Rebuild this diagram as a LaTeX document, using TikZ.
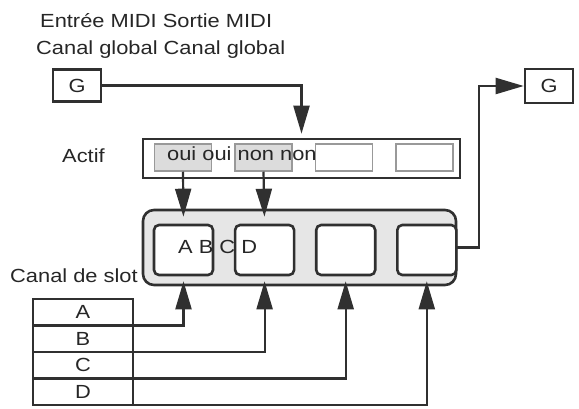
\documentclass[tikz,border=0pt]{standalone}
\usepackage{fontspec}
\setmainfont{Liberation Sans}[FakeStretch=1.15]
\usepackage{xcolor}
\usetikzlibrary{arrows.meta,positioning,calc}
\definecolor{linegray}{HTML}{303030}
\definecolor{flaggray}{HTML}{DCDCDC}
\definecolor{panelgray}{HTML}{E6E6E6}

\begin{document}
\begin{tikzpicture}[
    x=1pt, y=-1pt,
    font=\fontsize{19}{22}\selectfont,
    every node/.style={text=black!85, inner sep=0pt},
    txt/.style={anchor=base west},
    gbox/.style={rectangle, draw=linegray, line width=2.6pt, minimum width=48pt, minimum height=32pt},
    activebox/.style={rectangle, draw=linegray, line width=2.6pt, minimum width=317pt, minimum height=39pt},
    flag/.style={rectangle, draw=gray!80, line width=1.5pt, minimum width=57pt, minimum height=27pt},
    panel/.style={rectangle, draw=linegray, line width=2.6pt, fill=panelgray, rounded corners=11pt, minimum width=313pt, minimum height=75pt},
    slot/.style={rectangle, draw=linegray, line width=2.6pt, fill=white, rounded corners=5pt, minimum width=59pt, minimum height=50pt},
    chanrow/.style={rectangle, draw=linegray, line width=2.4pt, outer sep=0pt, minimum width=100pt, minimum height=26.5pt},
    arrow/.style={-{Triangle[length=28pt,width=16pt]}, color=linegray, line width=2.2pt}
]
\useasboundingbox (0,0) rectangle (579,409);

% Headings
\node[txt] (inhead) at (40,28) {Entrée MIDI Sortie MIDI};
\node[txt] (chanhead) at (36,55) {Canal global Canal global};

% Global channel boxes
\node[gbox] (gin) at (77,85.5) {G};
\node[gbox, minimum height=34pt] (gout) at (549,86) {G};

% Active row
\node[activebox] (active) at (301.5,158.5) {};
\node[flag, fill=flaggray] (act1) at (183,157.5) {};
\node[flag, fill=flaggray, right=22pt of act1] (act2) {};
\node[flag, fill=white, right=22pt of act2] (act3) {};
\node[flag, fill=white, right=22pt of act3] (act4) {};
\node[txt] (actlabel) at (62,163) {Actif};
\node[txt] (yesno) at (167,161) {oui oui non non};

% Slot panel
\node[panel] (panel) at (299.5,247.5) {};
\node[slot] (slot1) at (183.5,250) {};
\node[slot, right=19.5pt of slot1] (slot2) {};
\node[slot, right=19.5pt of slot2] (slot3) {};
\node[slot, right=19.5pt of slot3] (slot4) {};
\node[txt] (slotnames) at (178,254) {A B C D};
\node[txt] (slotlabel) at (10,282) {Canal de slot};

% Slot channel table
\node[chanrow] (rowA) at (83,312.25) {A};
\node[chanrow, below=0pt of rowA] (rowB) {B};
\node[chanrow, below=0pt of rowB] (rowC) {C};
\node[chanrow, below=0pt of rowC] (rowD) {D};

% Connections
\draw[arrow, shorten >=4pt] (gin.east) -| (active.north);
\draw[arrow, shorten >=7pt] (act1.south) -- (slot1.north);
\draw[arrow, shorten >=7pt] (act2.south) -- (slot2.north);
\draw[arrow] (panel.east) -- ++(22,0) |- (gout.west);

\draw[arrow, shorten >=5pt] (rowA.south east) -| (slot1.south);
\draw[arrow, shorten >=5pt] (rowB.south east) -| (slot2.south);
\draw[arrow, shorten >=5pt] (rowC.south east) -| (slot3.south);
\draw[arrow, shorten >=5pt] (rowD.south east) -| (slot4.south);

\end{tikzpicture}
\end{document}
